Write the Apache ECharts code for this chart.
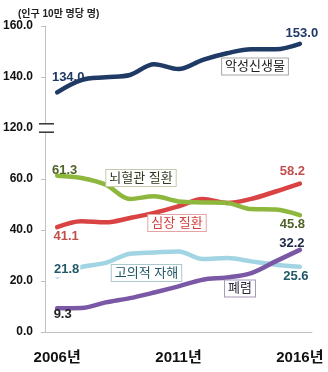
<!DOCTYPE html>
<html><head><meta charset="utf-8">
<script src="https://cdn.jsdelivr.net/npm/echarts@6/dist/echarts.min.js"></script>
<style>html,body{margin:0;padding:0;background:#fff}#c{width:328px;height:372px}</style>
</head><body><div id="c"></div>
<script>
// ---- data ----
const years = ['2006년','2007년','2008년','2009년','2010년','2011년','2012년','2013년','2014년','2015년','2016년'];
const cancer    = [134.0, 138.8, 139.9, 140.8, 145.0, 143.1, 146.7, 149.3, 150.9, 150.9, 153.0];
const cerebro   = [61.3, 60.4, 57.8, 52.2, 53.2, 51.2, 50.8, 50.6, 48.2, 48.0, 45.8];
const heart     = [41.1, 43.4, 43.0, 44.7, 46.7, 49.3, 52.2, 50.6, 52.2, 55.1, 58.2];
const suicide   = [21.8, 25.5, 27.1, 30.7, 31.2, 31.6, 28.6, 29.0, 27.7, 26.4, 25.6];
const pneumonia = [9.3, 9.4, 11.6, 13.3, 15.5, 17.9, 20.5, 21.4, 23.1, 27.7, 32.2];
const seriesNames = ['악성신생물','뇌혈관 질환','심장 질환','고의적 자해','폐렴'];
const yTickLabels = ['0.0','20.0','40.0','60.0','120.0','140.0','160.0'];
const unitTitle = '(인구 10만 명당 명)';
// values above the axis break are drawn shifted down by this amount
const BREAK_SHIFT = 40;

// ---- styles ----
const FONT = '"Liberation Sans", "Noto Sans CJK KR", sans-serif';
const AXIS_GRAY = '#bfbfbf';

function makeData(vals, shift, firstLbl, lastLbl, color) {
  return vals.map((v, i) => {
    const item = { value: +(v - shift).toFixed(2), raw: v };
    const l = i === 0 ? firstLbl : (i === vals.length - 1 ? lastLbl : null);
    if (l) {
      item.label = Object.assign({
        show: true, color: color, fontSize: 13, fontWeight: 'bold', fontFamily: FONT,
        formatter: () => v.toFixed(1)
      }, l);
    }
    return item;
  });
}

function lineSeries(name, vals, shift, color, width, lblColor, firstLbl, lastLbl) {
  return {
    name: name, type: 'line', smooth: 0.35,
    symbol: 'circle', symbolSize: 1,
    itemStyle: { color: color },
    lineStyle: { color: color, width: width, cap: 'round' },
    label: { show: false },
    emphasis: { disabled: true },
    data: makeData(vals, shift, firstLbl, lastLbl, lblColor),
    z: 2
  };
}

const chart = echarts.init(document.getElementById('c'), null, { renderer: 'canvas' });

const option = {
  animation: false,
  backgroundColor: '#fff',
  textStyle: { fontFamily: FONT },
  title: {
    text: unitTitle, left: 13, top: 4,
    textStyle: { fontSize: 10, fontWeight: 'bold', color: '#222', fontFamily: FONT }
  },
  grid: { left: 45, right: 16, top: 26, bottom: 40, containLabel: false },
  xAxis: {
    type: 'category', data: years, boundaryGap: true,
    axisLine: { lineStyle: { color: AXIS_GRAY, width: 1 } },
    axisTick: { interval: 4, length: 5, lineStyle: { color: AXIS_GRAY } },
    axisLabel: { interval: 4, margin: 18, fontSize: 15, fontWeight: 'bold', color: '#111', fontFamily: FONT },
    splitLine: { show: false }
  },
  yAxis: {
    type: 'value', min: 0, max: 120, interval: 20,
    axisLine: { show: true, lineStyle: { color: AXIS_GRAY, width: 1 } },
    axisTick: { show: true, length: 4, lineStyle: { color: AXIS_GRAY } },
    axisLabel: {
      margin: 12, fontSize: 12, fontWeight: 'bold', color: '#111', fontFamily: FONT,
      formatter: (v) => yTickLabels[Math.round(v / 20)]
    },
    splitLine: { show: false }
  },
  series: [
    lineSeries(seriesNames[0], cancer, BREAK_SHIFT, '#1f3a64', 4.5, '#1f3864',
      { position: 'top', offset: [11, -3] }, { position: 'top', offset: [2, 2] }),
    lineSeries(seriesNames[2], heart, 0, '#d94343', 4.5, '#c0504d',
      { position: 'bottom', offset: [9, -3] }, { position: 'top', offset: [-7.5, 0] }),
    lineSeries(seriesNames[1], cerebro, 0, '#8db83d', 4.5, '#4f6228',
      { position: 'top', offset: [7.5, 6.5] }, { position: 'bottom', offset: [-7.5, -3] }),
    lineSeries(seriesNames[3], suicide, 0, '#a2d5e3', 4.5, '#215967',
      { position: 'top', offset: [9.5, 6.5], backgroundColor: '#fff', padding: [1, 1] }, { position: 'bottom', offset: [-4, -2.5] }),
    lineSeries(seriesNames[4], pneumonia, 0, '#7b58a6', 4.5, '#222a4a',
      { position: 'bottom', offset: [5.5, -6], color: '#222' }, { position: 'top', offset: [-8, 5.5] })
  ]
};
chart.setOption(option);

// series-name boxes and the axis-break mark
function box(text, cx, cy, color, border) {
  return {
    type: 'text', x: cx, y: cy, z: 10,
    style: {
      text: text, fill: color, font: '13px ' + FONT,
      align: 'center', verticalAlign: 'middle',
      backgroundColor: '#fff', borderColor: border, borderWidth: 1, padding: [2, 3, 1, 3]
    }
  };
}
const yBreak = chart.convertToPixel({ yAxisIndex: 0 }, 80);
const axisX = 45;
chart.setOption({
  graphic: [
    box(seriesNames[0], 255, 66.5, '#222', '#a6a6a6'),
    box(seriesNames[1], 141, 178, '#2f3a1f', '#c4cbb0'),
    box(seriesNames[2], 177, 223, '#d43c3c', '#e6a3a3'),
    box(seriesNames[3], 146.5, 273, '#1f5665', '#a9c8d0'),
    box(seriesNames[4], 240, 288.5, '#2a2a3a', '#a596bb'),
    { type: 'rect', z: 11, shape: { x: axisX - 6, y: yBreak - 4, width: 14, height: 8 }, style: { fill: '#fff' } },
    { type: 'line', z: 12, shape: { x1: axisX - 6, y1: yBreak - 4.2, x2: axisX + 9, y2: yBreak - 4.2 }, style: { stroke: '#333', lineWidth: 1.5 } },
    { type: 'line', z: 12, shape: { x1: axisX - 6, y1: yBreak + 4.2, x2: axisX + 9, y2: yBreak + 4.2 }, style: { stroke: '#333', lineWidth: 1.5 } }
  ]
});
</script>
</body></html>
